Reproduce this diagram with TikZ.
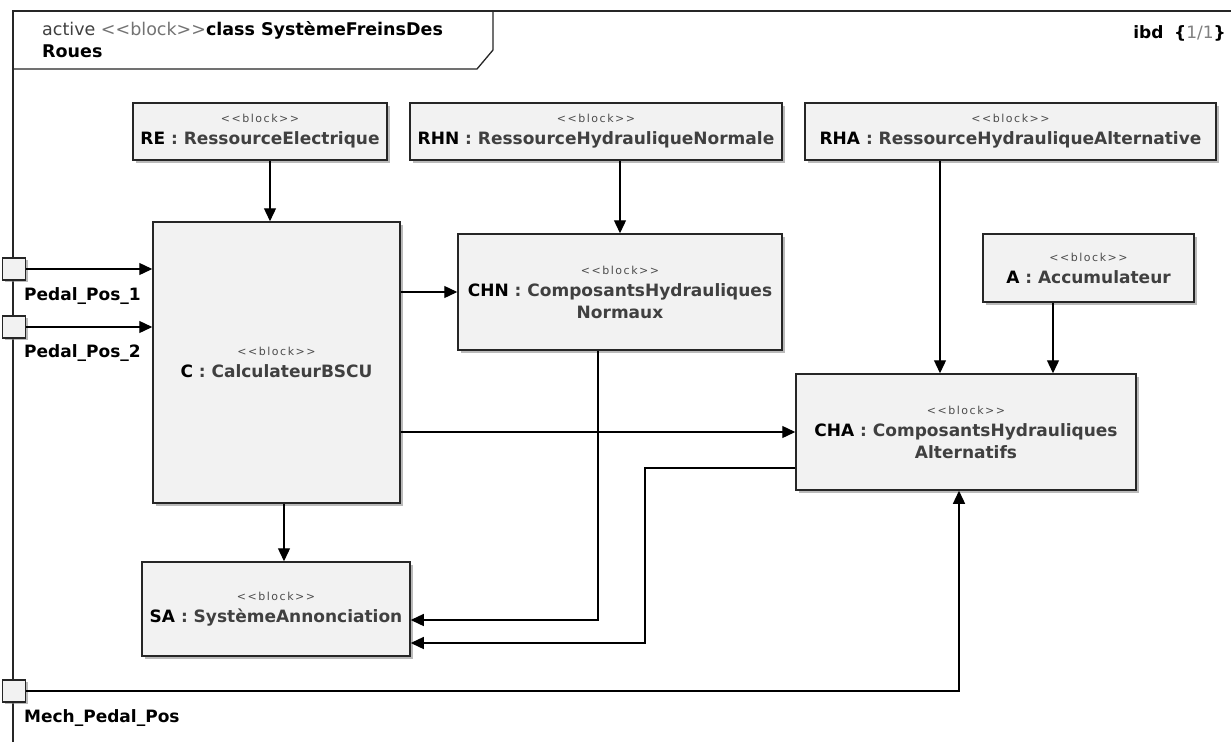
\documentclass[tikz,border=0pt]{standalone}
\usepackage{fontspec}
\setmainfont{DejaVu Sans}
\usetikzlibrary{arrows.meta, positioning, shadows}

\definecolor{blockfill}{HTML}{F2F2F2}
\definecolor{nametext}{HTML}{404040}
\newcommand{\stereo}{{\fontsize{11}{12}\selectfont\addfontfeature{LetterSpace=14}\color{black!70}{<}{<}block{>}{>}}}
\newcommand{\blkname}[2]{\textbf{#1}\textcolor{nametext}{\textbf{ : #2}}}

\begin{document}
\begin{tikzpicture}[x=1pt, y=-1pt, >={Triangle[length=13pt, width=12pt]},
    frame/.style={draw=black!85, line width=1.3pt},
    blk/.style={draw=black!85, fill=blockfill, line width=1.5pt, align=center, inner sep=0pt,
      font=\fontsize{17}{22}\selectfont,
      drop shadow={shadow xshift=2.5pt, shadow yshift=-2.5pt, fill=black!45, opacity=.6}},
    port/.style={draw=black!85, fill=blockfill, line width=1.2pt, inner sep=0pt,
      minimum width=23, minimum height=22,
      drop shadow={shadow xshift=2pt, shadow yshift=-2pt, fill=black!45, opacity=.6}},
    lbl/.style={anchor=west, inner sep=0pt, font=\fontsize{17}{20}\selectfont\bfseries},
    conn/.style={->, line width=1.3pt, draw=black}]
    \useasboundingbox (0,0) rectangle (1231,742);
    \fill[white] (0,0) rectangle (1231,742);

    % cadre du diagramme
    \draw[frame] (13,742) -- (13,11) -- (1231,11);
    \draw[frame] (13,69) -- (477,69) -- (493,50) -- (493,11);
    \node[anchor=north west, align=left, inner sep=0pt, font=\fontsize{17.5}{22}\selectfont] (title) at (42,21)
      {\textcolor{nametext}{active} \textcolor{black!55}{{<}{<}block{>}{>}}\textbf{class SystèmeFreinsDes}\\\textbf{Roues}};
    \node[anchor=east, inner sep=0pt, font=\fontsize{17}{20}\selectfont] (ibd) at (1226,33)
      {\textbf{ibd} \ \textbf{\{}\textcolor{black!50}{1/1}\textbf{\}}};

    % blocs
    \node[blk, minimum width=254, minimum height=57] (re) at (260,131.5) {\stereo\\\blkname{RE}{RessourceElectrique}};
    \node[blk, minimum width=372, minimum height=57] (rhn) at (596,131.5) {\stereo\\\blkname{RHN}{RessourceHydrauliqueNormale}};
    \node[blk, minimum width=411, minimum height=57] (rha) at (1010.5,131.5) {\stereo\\\blkname{RHA}{RessourceHydrauliqueAlternative}};
    \node[blk, minimum width=247, minimum height=281] (calc) at (276.5,362.5) {\stereo\\\blkname{C}{CalculateurBSCU}};
    \node[blk, minimum width=324, minimum height=116] (chn) at (620,292) {\stereo\\\blkname{CHN}{ComposantsHydrauliques}\\\textcolor{nametext}{\textbf{Normaux}}};
    \node[blk, minimum width=211, minimum height=68] (acc) at (1088.5,268) {\stereo\\\blkname{A}{Accumulateur}};
    \node[blk, minimum width=340, minimum height=116] (cha) at (966,432) {\stereo\\\blkname{CHA}{ComposantsHydrauliques}\\\textcolor{nametext}{\textbf{Alternatifs}}};
    \node[blk, minimum width=268, minimum height=94] (sa) at (276,609) {\stereo\\\blkname{SA}{SystèmeAnnonciation}};

    % ports
    \node[port] (pp1) at (14,269) {};
    \node[port] (pp2) at (14,327) {};
    \node[port] (mpp) at (14,691) {};
    \node[lbl] (pp1l) at (24,296) {Pedal\_Pos\_1};
    \node[lbl] (pp2l) at (24,353) {Pedal\_Pos\_2};
    \node[lbl] (mppl) at (24,718) {Mech\_Pedal\_Pos};

    % points de passage
    \foreach \n/\x in {xre/270, xrha/940, xacc/1053, xsa/284, xchn/598, xalt/645, xmech/959}
      \coordinate (\n) at (\x,0);
    \coordinate (ysa1) at (0,620);
    \coordinate (ysa2) at (0,643);
    \coordinate (ycha) at (0,468);

    % connecteurs
    \draw[conn] (re.south -| xre) -- (calc.north -| xre);
    \draw[conn] (rhn.south -| chn.north) -- (chn.north);
    \draw[conn] (rha.south -| xrha) -- (cha.north -| xrha);
    \draw[conn] (acc.south -| xacc) -- (cha.north -| xacc);
    \draw[conn] (pp1.east) -- (pp1.east -| calc.west);
    \draw[conn] (pp2.east) -- (pp2.east -| calc.west);
    \draw[conn] (calc.east |- chn.west) -- (chn.west);
    \draw[conn] (calc.east |- cha.west) -- (cha.west);
    \draw[conn] (calc.south -| xsa) -- (sa.north -| xsa);
    \draw[conn] (chn.south -| xchn) |- (sa.east |- ysa1);
    \draw[conn] (cha.west |- ycha) -| (xalt |- ysa2) -- (sa.east |- ysa2);
    \draw[conn] (mpp.east) -| (cha.south -| xmech);
\end{tikzpicture}
\end{document}
